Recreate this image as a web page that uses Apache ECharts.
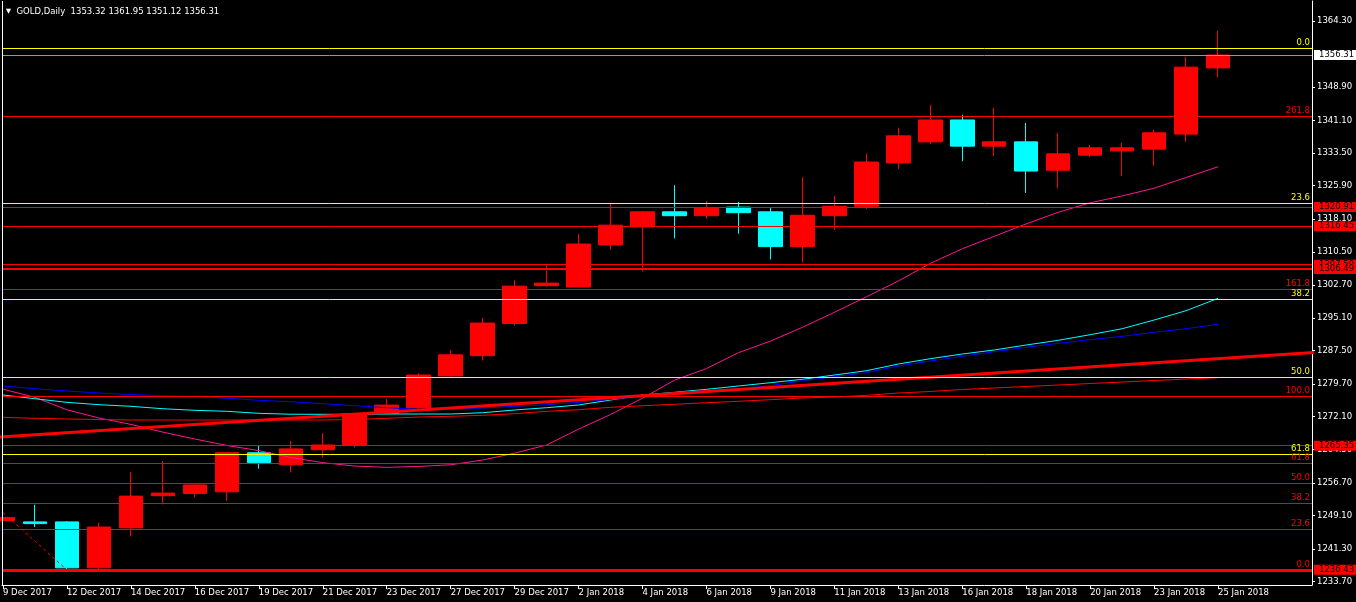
<!DOCTYPE html>
<html>
<head>
<meta charset="utf-8">
<script src="https://cdn.jsdelivr.net/npm/echarts@6/dist/echarts.min.js"></script>
<style>
html,body{margin:0;padding:0;background:#000;}
#chart{width:1356px;height:602px;}
</style>
</head>
<body>
<div id="chart"></div>
<script>
// ---- data ----
const dates = ['9 Dec 2017','11 Dec 2017','12 Dec 2017','13 Dec 2017','14 Dec 2017','15 Dec 2017','16 Dec 2017','18 Dec 2017','19 Dec 2017','20 Dec 2017','21 Dec 2017','22 Dec 2017','23 Dec 2017','26 Dec 2017','27 Dec 2017','28 Dec 2017','29 Dec 2017','30 Dec 2017','2 Jan 2018','3 Jan 2018','4 Jan 2018','5 Jan 2018','6 Jan 2018','8 Jan 2018','9 Jan 2018','10 Jan 2018','11 Jan 2018','12 Jan 2018','13 Jan 2018','15 Jan 2018','16 Jan 2018','17 Jan 2018','18 Jan 2018','19 Jan 2018','20 Jan 2018','22 Jan 2018','23 Jan 2018','24 Jan 2018','25 Jan 2018'];
const open  = [1247.9,1247.6,1247.6,1236.9,1246.2,1253.7,1254.2,1254.6,1263.7,1260.9,1264.4,1265.4,1272.9,1274.2,1281.6,1286.3,1293.8,1302.6,1302.3,1312.1,1316.3,1319.8,1318.9,1320.9,1319.8,1311.7,1318.9,1321.1,1331.2,1336.1,1341.2,1335.1,1336.1,1329.5,1333.0,1334.0,1334.4,1337.9,1353.32];
const close = [1248.6,1247.2,1236.9,1246.4,1253.6,1254.3,1256.2,1263.7,1261.4,1264.6,1265.5,1272.8,1274.8,1281.8,1286.5,1293.9,1302.5,1303.2,1312.3,1316.7,1319.8,1318.9,1320.7,1319.6,1311.7,1319.0,1321.1,1331.4,1337.5,1341.2,1335.1,1336.1,1329.3,1333.3,1334.7,1334.7,1338.2,1353.5,1356.31];
const low   = [1246.0,1246.4,1236.43,1236.5,1244.2,1251.7,1253.3,1252.5,1260.0,1259.1,1262.6,1264.9,1272.6,1273.7,1281.4,1285.2,1293.3,1302.4,1302.3,1311.0,1305.9,1313.6,1318.2,1314.7,1308.7,1308.0,1315.6,1320.5,1329.8,1335.6,1331.6,1332.8,1324.2,1325.3,1332.6,1328.2,1330.5,1336.1,1351.12];
const high  = [1249.0,1251.6,1247.8,1247.4,1259.2,1261.8,1256.3,1263.8,1265.3,1266.4,1268.3,1273.0,1276.2,1282.2,1287.6,1295.1,1303.9,1307.7,1314.6,1321.7,1320.0,1326.0,1322.3,1322.1,1320.7,1327.9,1323.5,1333.4,1339.4,1344.7,1342.4,1344.0,1340.5,1338.2,1335.4,1335.9,1338.9,1355.9,1361.95];

const maPink  = [1278.5,1276.6,1273.7,1271.8,1270.3,1268.5,1266.9,1265.4,1264.2,1262.6,1261.4,1260.6,1260.3,1260.5,1260.9,1262.0,1263.6,1265.5,1269.2,1272.6,1276.4,1280.6,1283.3,1287.0,1289.7,1292.9,1296.4,1300.0,1303.7,1307.8,1311.2,1314.1,1317.0,1319.7,1321.9,1323.5,1325.3,1327.8,1330.3];
const maCyan  = [1277.15,1276.28,1275.44,1274.89,1274.51,1273.95,1273.58,1273.35,1272.88,1272.67,1272.65,1272.65,1272.72,1272.72,1272.72,1273.02,1273.65,1274.19,1274.82,1275.98,1277.15,1277.77,1278.47,1279.24,1280.01,1280.8,1281.8,1282.8,1284.36,1285.6,1286.69,1287.63,1288.79,1289.88,1291.19,1292.58,1294.61,1296.78,1299.66];
const maBlue  = [1279.24,1278.61,1278.08,1277.61,1277.26,1276.98,1276.84,1276.38,1275.91,1275.58,1275.12,1274.65,1274.19,1273.81,1273.88,1274.12,1274.51,1274.89,1275.44,1276.14,1276.84,1277.68,1278.15,1278.61,1279.31,1280.48,1281.41,1282.34,1283.9,1285.06,1286.16,1287.23,1288.25,1289.18,1290.02,1290.81,1291.75,1292.58,1293.61];
const maRed   = [1271.95,1271.72,1271.56,1271.44,1271.32,1271.32,1271.32,1271.32,1271.32,1271.32,1271.32,1271.44,1271.72,1272.02,1272.18,1272.42,1272.79,1273.35,1273.72,1274.28,1274.65,1274.98,1275.35,1275.68,1276.05,1276.45,1276.68,1277.07,1277.61,1277.96,1278.43,1278.78,1279.13,1279.47,1279.82,1280.17,1280.52,1280.87,1281.15];

const trendLine = [[-1, 1266.94], [41, 1287.03]];
const fibRedAnchors = [[-4.05, 1276.75], [2, 1236.43]];   // [bar index, price]: 100% point, 0% point
const fibRedLevels = [0, 23.6, 38.2, 50, 61.8, 100, 161.8, 261.8];
const fibYellowHigh = 1357.95, fibYellowLow = 1204.8;       // 0% and 100%
const fibYellowLevels = [0, 23.6, 38.2, 50, 61.8];
const srLevels = [1320.91, 1316.45, 1307.50, 1306.49, 1265.35, 1236.43];
const priceTicks = [1364.30,1348.90,1341.10,1333.50,1325.90,1318.10,1310.50,1302.70,1295.10,1287.50,1279.70,1272.10,1264.50,1256.70,1249.10,1241.30,1233.70];
const dateTicks = [0,2,4,6,8,10,12,14,16,18,20,22,24,26,28,30,32,34,36,38];

// ---- build ----
const FONT = 'DejaVu Sans';
const FS = 8.5;
const X_MIN = -0.03125, X_MAX = 40.9375;
const Y_MIN = 1232.9, Y_MAX = 1368.9;
const last = dates.length - 1;
const candles = dates.map((d, i) => [i, open[i], close[i], low[i], high[i]]);
const toXY = arr => arr.map((v, i) => [i, v]);

const redLo = fibRedAnchors[1][1], redHi = fibRedAnchors[0][1];
const markData = [];
fibYellowLevels.forEach(l => {
  markData.push({
    yAxis: fibYellowHigh - l / 100 * (fibYellowHigh - fibYellowLow),
    lineStyle: { color: '#ffff00', width: 1, type: 'solid' },
    label: { show: true, position: 'insideEndTop', distance: [2, 1], formatter: l.toFixed(1), color: '#ffff00', fontFamily: FONT, fontSize: FS }
  });
});
fibRedLevels.forEach(l => {
  markData.push({
    yAxis: redLo + l / 100 * (redHi - redLo),
    lineStyle: { color: '#ff0000', width: l === 0 ? 3 : 1, type: 'solid' },
    label: { show: true, position: 'insideEndTop', distance: [2, 1], formatter: l.toFixed(1), color: '#ff0000', fontFamily: FONT, fontSize: FS }
  });
});
srLevels.forEach(v => {
  markData.push({
    yAxis: v,
    lineStyle: { color: '#ff0000', width: v === 1306.49 ? 2 : 1, type: 'solid' },
    label: { show: true, position: 'end', distance: 2, formatter: v.toFixed(2), color: '#000000', backgroundColor: '#ff0000', padding: [1, 4, 0, 5], fontFamily: FONT, fontSize: FS }
  });
});
markData.push({
  yAxis: close[last],
  lineStyle: { color: '#8899aa', width: 1, type: 'solid' },
  label: { show: true, position: 'end', distance: 2, formatter: close[last].toFixed(2), color: '#000000', backgroundColor: '#ffffff', padding: [1, 4, 0, 5], fontFamily: FONT, fontSize: FS }
});
// left frame edge
markData.push({
  xAxis: X_MIN,
  lineStyle: { color: '#ffffff', width: 1, type: 'solid' },
  label: { show: false }
});

const chart = echarts.init(document.getElementById('chart'), null, { renderer: 'canvas' });
chart.setOption({
  animation: false,
  backgroundColor: '#000000',
  title: {
    text: '{tri|\u25BC}  ' + 'GOLD,Daily  ' + [open[last], high[last], low[last], close[last]].map(v => v.toFixed(2)).join(' '),
    left: 1, top: 2,
    textStyle: {
      color: '#ffffff', fontFamily: FONT, fontSize: FS, fontWeight: 'normal',
      rich: { tri: { color: '#ffffff', fontFamily: FONT, fontSize: 6.5 } }
    }
  },
  grid: { left: 1, right: 44, top: 1, bottom: 17, show: false },
  xAxis: {
    type: 'value',
    min: X_MIN, max: X_MAX,
    splitLine: { show: false },
    axisLine: { show: true, onZero: false, lineStyle: { color: '#ffffff', width: 1 } },
    axisTick: { show: true, length: 4, lineStyle: { color: '#ffffff' }, customValues: dateTicks },
    axisLabel: {
      show: true, customValues: dateTicks, align: 'left', margin: 3,
      color: '#ffffff', fontFamily: FONT, fontSize: FS,
      formatter: v => dates[Math.round(v)] || ''
    }
  },
  yAxis: {
    type: 'value', position: 'right',
    min: Y_MIN, max: Y_MAX,
    splitLine: { show: false },
    axisLine: { show: true, onZero: false, lineStyle: { color: '#ffffff', width: 1 } },
    axisTick: { show: true, length: 3, lineStyle: { color: '#ffffff' }, customValues: priceTicks },
    axisLabel: {
      show: true, customValues: priceTicks, margin: 5,
      color: '#ffffff', fontFamily: FONT, fontSize: FS,
      formatter: v => v.toFixed(2)
    }
  },
  series: [
    {
      type: 'candlestick', name: 'GOLD',
      data: candles,
      encode: { x: 0, y: [1, 2, 3, 4] },
      barWidth: 24,
      clip: true, z: 2,
      itemStyle: { color: '#ff0000', color0: '#00ffff', borderColor: '#ff0000', borderColor0: '#00ffff', borderWidth: 1 }
    },
    { type: 'line', name: 'MA fast', data: toXY(maPink), showSymbol: false, z: 3, lineStyle: { color: '#ff1493', width: 1 } },
    { type: 'line', name: 'MA mid', data: toXY(maCyan), showSymbol: false, z: 3, lineStyle: { color: '#00ffff', width: 1 } },
    { type: 'line', name: 'MA slow', data: toXY(maBlue), showSymbol: false, z: 3, lineStyle: { color: '#0000ff', width: 1 } },
    { type: 'line', name: 'MA long', data: toXY(maRed), showSymbol: false, z: 3, lineStyle: { color: '#ff0000', width: 1 } },
    { type: 'line', name: 'Trend', data: trendLine, showSymbol: false, clip: true, z: 3, lineStyle: { color: '#ff0000', width: 3 } },
    { type: 'line', name: 'Fibo diag', data: fibRedAnchors, showSymbol: false, clip: true, z: 4, lineStyle: { color: '#ff0000', width: 1, type: [3, 3] } },
    {
      type: 'line', name: 'Levels', data: [], z: 5,
      markLine: { silent: true, symbol: ['none', 'none'], animation: false, data: markData }
    }
  ]
});
</script>
</body>
</html>
